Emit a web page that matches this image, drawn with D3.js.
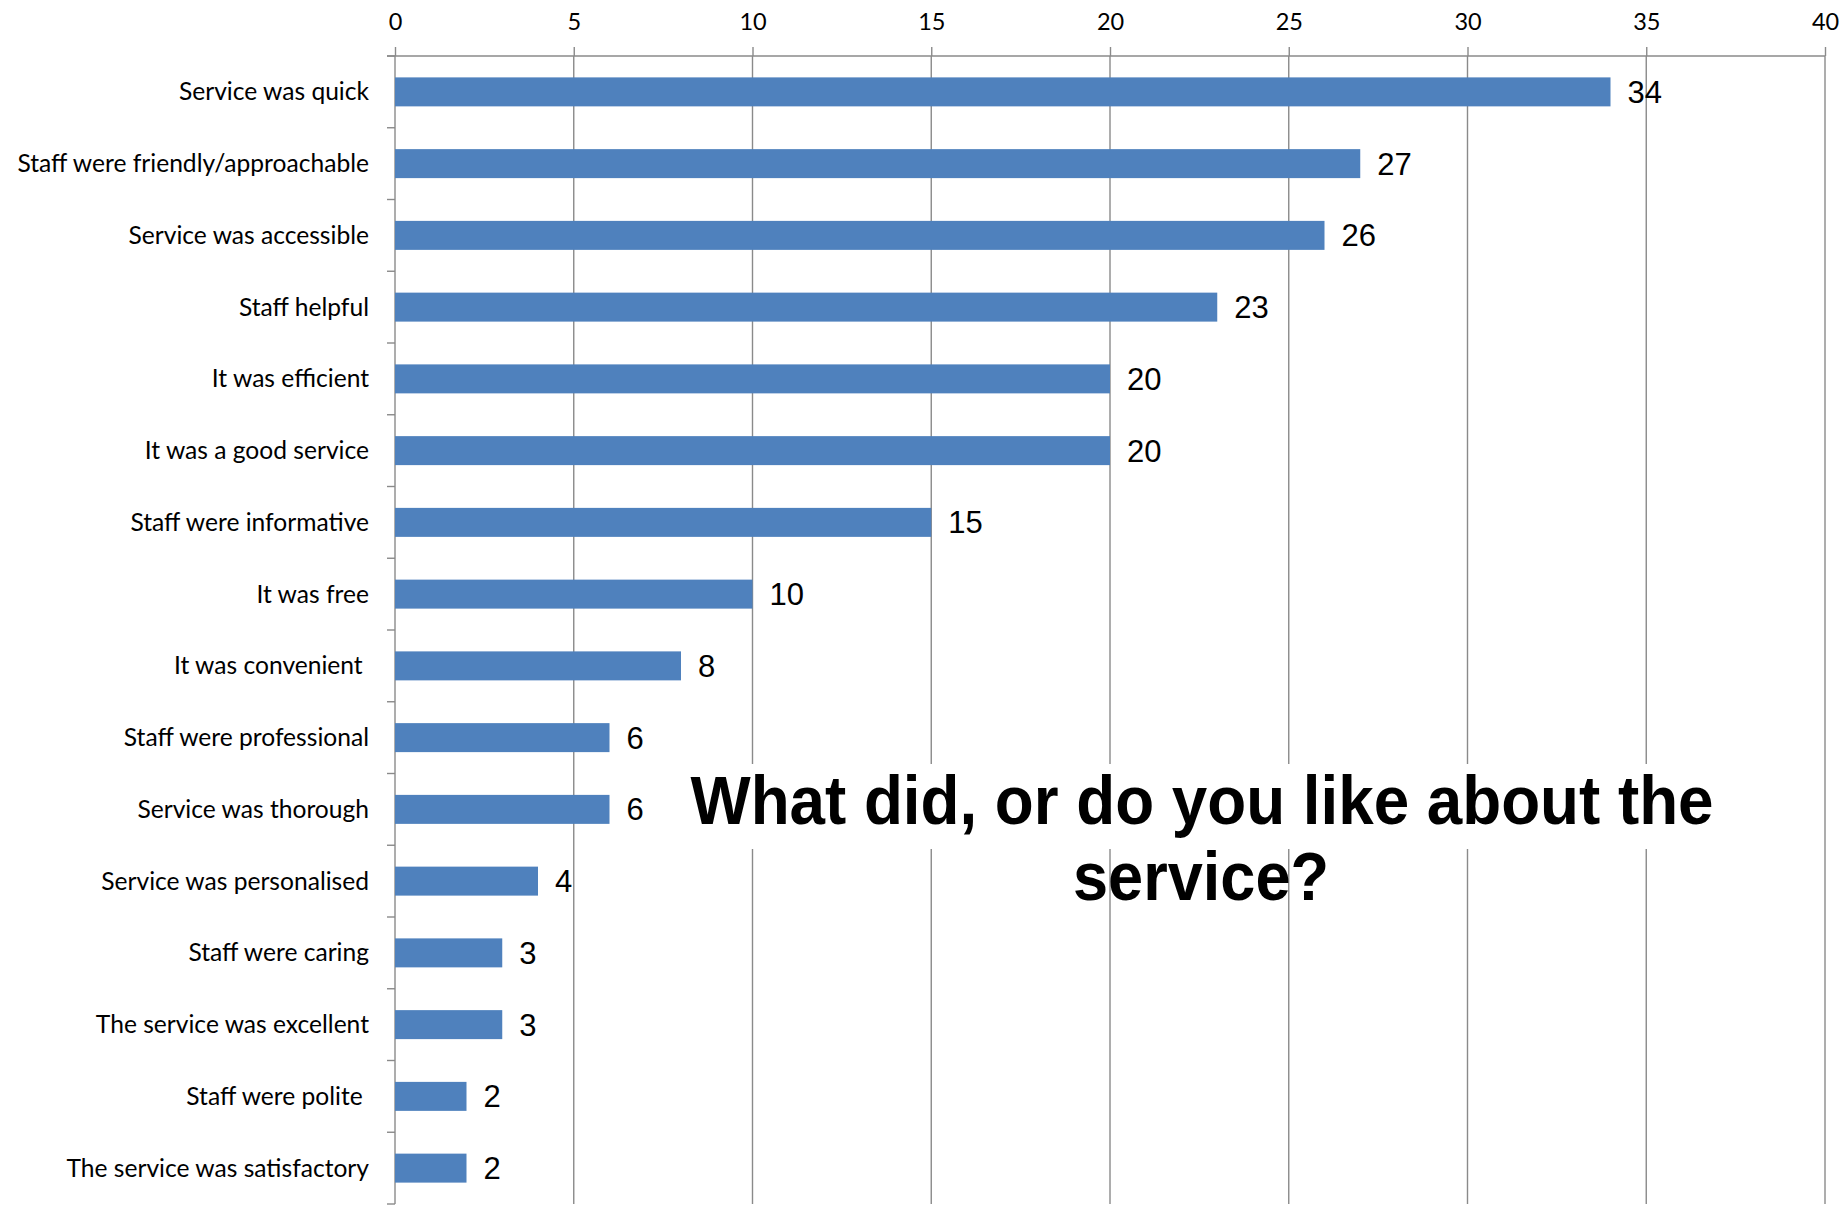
<!DOCTYPE html>
<html>
<head>
<meta charset="utf-8">
<script src="https://cdn.jsdelivr.net/npm/d3@7"></script>
<style>
  html, body { margin: 0; padding: 0; background: #fff; }
  svg { display: block; }
</style>
</head>
<body>
<svg id="chart" width="1843" height="1205"></svg>
<script>
const categories = [
  "Service was quick",
  "Staff were friendly/approachable",
  "Service was accessible",
  "Staff helpful",
  "It was efficient",
  "It was a good service",
  "Staff were informative",
  "It was free",
  "It was convenient ",
  "Staff were professional",
  "Service was thorough",
  "Service was personalised",
  "Staff were caring",
  "The service was excellent",
  "Staff were polite ",
  "The service was satisfactory"
];
const values = [34, 27, 26, 23, 20, 20, 15, 10, 8, 6, 6, 4, 3, 3, 2, 2];
const xTicks = [0, 5, 10, 15, 20, 25, 30, 35, 40];
const titleLines = ["What did, or do you like about the", "service?"];

(function () {
const svg = d3.select("#chart");
const pLeft = 395, pRight = 1825, pTop = 56, pBottom = 1204;
const axisColor = "#8a8a8a";

const x = d3.scaleLinear().domain([0, 40]).range([pLeft, pRight]);
const y = d3.scaleBand().domain(categories).range([pTop, pBottom])
  .paddingInner(0.596).paddingOuter(0.298);

// gridlines
svg.append("g").selectAll("line").data(xTicks.filter(d => d > 0)).join("line")
  .attr("x1", d => x(d)).attr("x2", d => x(d))
  .attr("y1", pTop).attr("y2", pBottom)
  .attr("stroke", axisColor).attr("stroke-width", 1.4);

// top axis
const xAxis = d3.axisTop(x).tickValues(xTicks).tickSize(9).tickPadding(17);
const gx = svg.append("g").attr("transform", `translate(0,${pTop})`).call(xAxis);
gx.select(".domain").attr("stroke", axisColor).attr("stroke-width", 1.4)
  .attr("d", `M${pLeft - 8},0H${pRight}`);
gx.selectAll(".tick line").attr("stroke", axisColor).attr("stroke-width", 1.4);
gx.selectAll(".tick text").attr("font-family", "Lato, sans-serif")
  .attr("font-size", 23.5).attr("fill", "#000");

// left axis line
svg.append("line").attr("x1", pLeft).attr("x2", pLeft).attr("y1", pTop).attr("y2", pBottom)
  .attr("stroke", axisColor).attr("stroke-width", 1.4);

// category boundary ticks
const step = y.step();
const boundaries = categories.map(c => y(c) - (step - y.bandwidth()) / 2).concat([pBottom]);
svg.append("g").selectAll("line").data(boundaries).join("line")
  .attr("x1", pLeft - 8).attr("x2", pLeft)
  .attr("y1", d => d).attr("y2", d => d)
  .attr("stroke", axisColor).attr("stroke-width", 1.4);

// category labels
svg.append("g").selectAll("text").data(categories).join("text")
  .attr("x", pLeft - 26).attr("y", d => y(d) + y.bandwidth() / 2)
  .attr("dy", "0.35em")
  .attr("text-anchor", "end")
  .attr("font-family", "Lato, sans-serif").attr("font-size", 24.6)
  .attr("fill", "#000")
  .style("white-space", "pre")
  .text(d => d);

// bars
svg.append("g").selectAll("rect").data(values).join("rect")
  .attr("x", x(0)).attr("y", (d, i) => y(categories[i]))
  .attr("width", d => x(d) - x(0)).attr("height", y.bandwidth())
  .attr("fill", "#4F81BD");

// value labels
svg.append("g").selectAll("text").data(values).join("text")
  .attr("x", d => x(d) + 17)
  .attr("y", (d, i) => y(categories[i]) + y.bandwidth() / 2 + 11)
  .attr("font-family", "'Liberation Sans', Arial, sans-serif").attr("font-size", 31)
  .attr("fill", "#000")
  .text(d => d);

// title with white backing for the first line
svg.append("rect").attr("x", 682).attr("y", 764).attr("width", 1042).attr("height", 85)
  .attr("fill", "#fff");
const tg = svg.append("g");
tg.append("text").attr("x", 1202).attr("y", 824).attr("text-anchor", "middle")
  .attr("font-family", "'Liberation Sans', Arial, sans-serif").attr("font-weight", "bold")
  .attr("font-size", 68).attr("fill", "#000")
  .attr("textLength", 1023).attr("lengthAdjust", "spacingAndGlyphs")
  .text(titleLines[0]);
tg.append("text").attr("x", 1201).attr("y", 900).attr("text-anchor", "middle")
  .attr("font-family", "'Liberation Sans', Arial, sans-serif").attr("font-weight", "bold")
  .attr("font-size", 68).attr("fill", "#000")
  .attr("textLength", 256).attr("lengthAdjust", "spacingAndGlyphs")
  .text(titleLines[1]);
})();
</script>
</body>
</html>
